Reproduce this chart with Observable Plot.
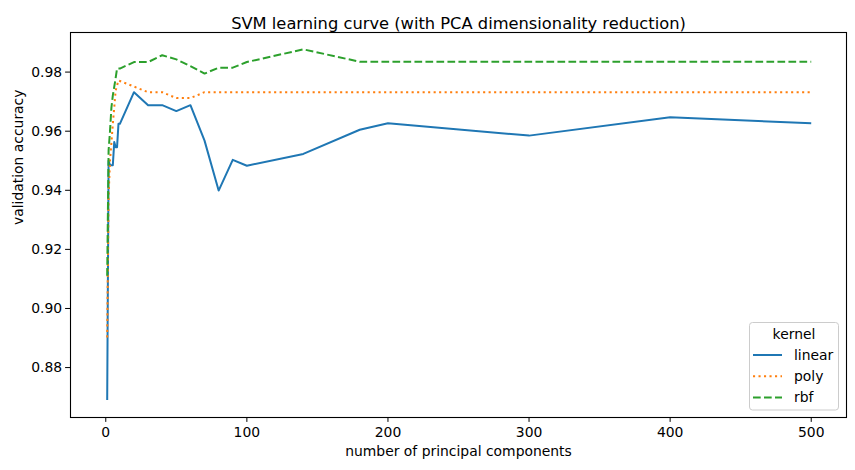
<!DOCTYPE html>
<html>
<head>
<meta charset="utf-8">
<script src="https://cdn.jsdelivr.net/npm/d3@7"></script>
<script src="https://cdn.jsdelivr.net/npm/@observablehq/plot@0.6"></script>
<style>
  html, body { margin: 0; padding: 0; background: white; }
  #chart { width: 855px; height: 470px; }
</style>
</head>
<body>
<div id="chart"></div>
<script>
const components = [1, 2, 3, 4, 5, 6, 7, 8, 9, 10, 20, 30, 40, 50, 60, 70, 80, 90, 100, 140, 180, 200, 300, 400, 500];
const linear = [0.869, 0.9500, 0.9485, 0.9485, 0.9485, 0.9563, 0.9546, 0.9546, 0.9625, 0.9625, 0.9732, 0.9688, 0.9688, 0.9668, 0.9688, 0.9568, 0.9399, 0.9503, 0.9483, 0.9523, 0.9605, 0.9627, 0.9585, 0.9647, 0.9627];
const poly   = [0.8902, 0.9380, 0.9500, 0.9560, 0.9625, 0.9680, 0.9738, 0.9755, 0.9772, 0.9770, 0.9751, 0.9732, 0.9732, 0.9712, 0.9712, 0.9732, 0.9732, 0.9732, 0.9732, 0.9732, 0.9732, 0.9732, 0.9732, 0.9732, 0.9732];
const rbf    = [0.9111, 0.9535, 0.9600, 0.9680, 0.9721, 0.9750, 0.9780, 0.9812, 0.9812, 0.9812, 0.9834, 0.9834, 0.9857, 0.9843, 0.9820, 0.9795, 0.9815, 0.9815, 0.9834, 0.9877, 0.9835, 0.9835, 0.9835, 0.9835, 0.9835];
const kernels = ["linear", "poly", "rbf"];
const colors = ["#1f77b4", "#ff7f0e", "#2ca02c"];
const dashes = [null, "2.1,3.4", "7.7,3.3"];
const xTicks = [0, 100, 200, 300, 400, 500];
const yTicks = [0.88, 0.90, 0.92, 0.94, 0.96, 0.98];
const title = "SVM learning curve (with PCA dimensionality reduction)";
const xLabel = "number of principal components";
const yLabel = "validation accuracy";
const legendTitle = "kernel";

const series = [linear, poly, rbf];
const rows = [];
kernels.forEach((k, i) => components.forEach((c, j) => rows.push({kernel: k, n: c, acc: series[i][j]})));

const lineMarks = kernels.map((k, i) => Plot.line(rows.filter(r => r.kernel === k), {
  x: "n", y: "acc", stroke: colors[i], strokeWidth: 2,
  strokeDasharray: dashes[i] || undefined, strokeLinecap: "butt", strokeLinejoin: "round"
}));

const FS = 13.9;
const svg = Plot.plot({
  width: 855, height: 470,
  marginLeft: 70, marginRight: 9, marginTop: 32, marginBottom: 53,
  style: {fontFamily: "DejaVu Sans", fontSize: FS + "px", color: "black", background: "white"},
  x: {domain: [-25, 525]},
  y: {domain: [0.8631, 0.9934]},
  marks: [
    Plot.axisX({ticks: xTicks, tickFormat: d => String(d), tickSize: 4.9, tickPadding: 5, label: null, fontSize: FS}),
    Plot.axisY({ticks: yTicks, tickFormat: d => d.toFixed(2), tickSize: 4.9, tickPadding: 3.5, label: null, fontSize: FS}),
    ...lineMarks,
    Plot.frame({stroke: "black", strokeWidth: 1.1}),
    Plot.text([title], {frameAnchor: "top", dy: -15, fontSize: 16.3, fill: "black"}),
    Plot.text([xLabel], {frameAnchor: "bottom", dy: 38, fontSize: FS, fill: "black"}),
    Plot.text([yLabel], {frameAnchor: "left", dx: -52, rotate: -90, fontSize: FS, fill: "black"})
  ]
});
document.getElementById("chart").appendChild(svg);

// legend box (lower right)
const s = d3.select(svg);
const g = s.append("g").attr("font-family", "DejaVu Sans").attr("font-size", FS).attr("text-anchor", "start");
g.append("rect").attr("x", 749.5).attr("y", 322.5).attr("width", 89).attr("height", 87.5)
  .attr("rx", 3).attr("fill", "white").attr("fill-opacity", 0.8).attr("stroke", "#cccccc").attr("stroke-width", 1);
g.append("text").attr("x", 794).attr("y", 334).attr("dy", "0.35em").attr("text-anchor", "middle").text(legendTitle);
kernels.forEach((k, i) => {
  const y = 355 + i * 21.2;
  g.append("line").attr("x1", 753).attr("x2", 782).attr("y1", y).attr("y2", y)
    .attr("stroke", colors[i]).attr("stroke-width", 2)
    .attr("stroke-dasharray", dashes[i]);
  g.append("text").attr("x", 794).attr("y", y).attr("dy", "0.35em").attr("text-anchor", "start").text(k);
});
</script>
</body>
</html>
